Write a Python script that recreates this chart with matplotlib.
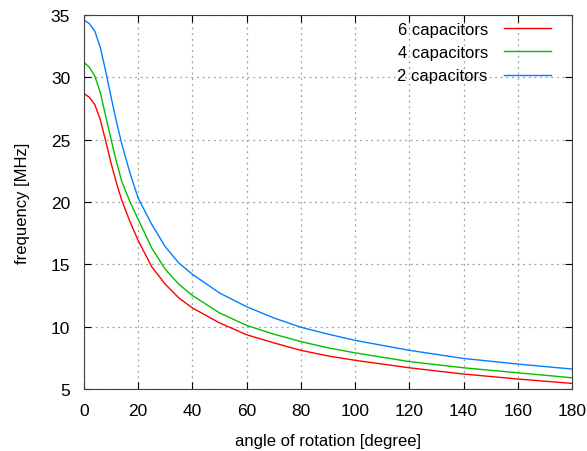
import matplotlib
matplotlib.use('Agg')
import matplotlib.pyplot as plt

plt.rcParams['font.family'] = ['Liberation Sans', 'DejaVu Sans']

# angle of rotation [degree]
angle = [0, 2, 4, 6, 8, 10, 12, 14, 17, 20, 25, 30, 35, 40, 50, 60, 70, 80, 90, 100, 120, 140, 160, 180]
# frequency [MHz]
freq_6 = [28.7, 28.4, 27.8, 26.6, 24.9, 23.1, 21.5, 20.1, 18.4, 16.9, 14.8, 13.4, 12.3, 11.5, 10.3, 9.35, 8.7, 8.1, 7.65, 7.3, 6.7, 6.2, 5.8, 5.45]
freq_4 = [31.2, 30.8, 30.1, 28.8, 26.9, 25.0, 23.2, 21.6, 20.0, 18.6, 16.3, 14.6, 13.4, 12.5, 11.1, 10.1, 9.4, 8.8, 8.3, 7.9, 7.2, 6.7, 6.3, 5.9]
freq_2 = [34.6, 34.3, 33.7, 32.4, 30.5, 28.4, 26.4, 24.6, 22.3, 20.3, 18.2, 16.4, 15.1, 14.2, 12.7, 11.6, 10.7, 9.95, 9.4, 8.9, 8.1, 7.45, 7.0, 6.6]

fig = plt.figure(figsize=(5.87, 4.52), dpi=100)
ax = fig.add_axes([0.1431, 0.1372, 0.8313, 0.8274])

ax.plot(angle, freq_6, color='#ff0000', lw=1, label='6 capacitors')
ax.plot(angle, freq_4, color='#00c000', lw=1, label='4 capacitors')
ax.plot(angle, freq_2, color='#0080ff', lw=1, label='2 capacitors')

ax.set_xlim(0, 180)
ax.set_ylim(5, 35)
ax.set_xticks(range(0, 181, 20))
ax.set_yticks(range(5, 36, 5))
ax.tick_params(direction='in', top=True, right=True, labelsize=12.5, length=5, pad=10)
ax.grid(True, color='#a0a0a0', linestyle=(0, (1.5, 3)), lw=0.9)
for s in ax.spines.values():
    s.set_color('#404040')

ax.set_xlabel('angle of rotation [degree]', fontsize=12, labelpad=11)
ax.set_ylabel('frequency [MHz]', fontsize=12, labelpad=15)

ax.legend(loc='upper right', bbox_to_anchor=(0.971, 1.0), frameon=False, markerfirst=False,
          fontsize=12, handlelength=2.8, labelspacing=0.5, borderaxespad=0, handletextpad=1.0)

plt.savefig('out.png', dpi=100)
